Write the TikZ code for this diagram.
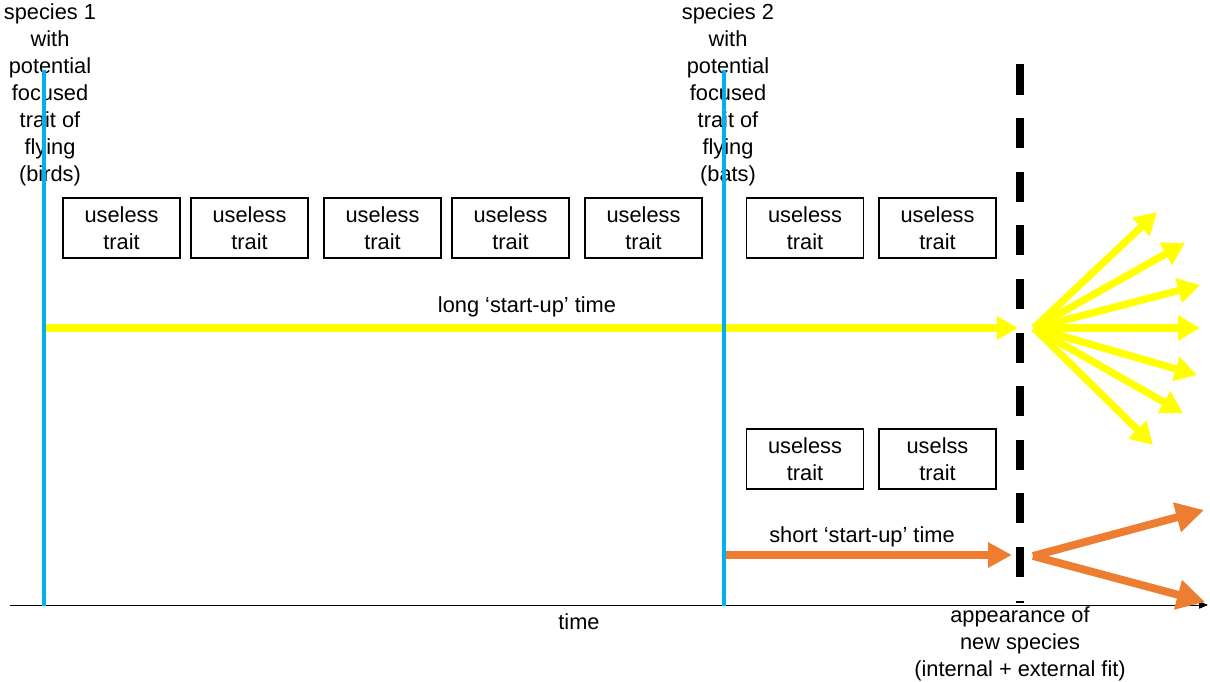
\documentclass[tikz,border=0pt]{standalone}
\usepackage{fontspec}
\setmainfont{Liberation Sans}
\usetikzlibrary{arrows.meta}
\definecolor{LineageBlue}{RGB}{0,176,240}
\definecolor{FitYellow}{RGB}{255,255,0}
\definecolor{FitOrange}{RGB}{237,125,49}

\begin{document}
\begin{tikzpicture}[x=0.025cm,y=-0.025cm,font=\fontsize{15.5}{19.2}\selectfont,
  trait/.style={draw,line width=0.9pt,minimum width=2.925cm,minimum height=1.5cm,align=center,inner sep=0pt},
  label/.style={align=center,inner sep=0pt},
  lineage/.style={LineageBlue,line width=2.9pt},
  longrun/.style={FitYellow,line width=5.2pt,-{Triangle[length=0.52cm,width=0.55cm]}},
  shortrun/.style={FitOrange,line width=5.6pt,-{Triangle[length=0.6cm,width=0.6cm]}},
  yfan/.style={FitYellow,line width=5.2pt,-{Triangle[length=0.55cm,width=0.6cm]}},
  ofan/.style={FitOrange,line width=5.6pt,-{Triangle[length=0.7cm,width=0.72cm]}},
  emerge/.style={line width=5.6pt,dash pattern=on 0.75cm off 0.59cm}]
\useasboundingbox (0,0) rectangle (1210,682);
% species labels
\node[label] (sp1) at (50,95) {species 1\\with\\potential\\focused\\trait of\\flying\\(birds)};
\node[label] (sp2) at (728,95) {species 2\\with\\potential\\focused\\trait of\\flying\\(bats)};
% time axis and lineages
\coordinate (ax0) at (10,605);\coordinate (ax1) at (1208,605);
\draw[line width=0.6pt,-{Triangle[length=0.22cm,width=0.18cm]}] (ax0) -- (ax1);
\node[label] (time) at (579,622) {time};
\coordinate (b1top) at (44,70);\coordinate (b1bot) at (44,606);
\coordinate (b2top) at (724,70);\coordinate (b2bot) at (724,606);
% useless traits, long route
\foreach \x [count=\i] in {121.5,249.5,382.5,510.5,643.5,805,937.5}
  \node[trait] (u\i) at (\x,228) {useless\\trait};
% useless traits, short route
\node[trait] (v1) at (805,459) {useless\\trait};
\node[trait] (v2) at (937.5,459) {uselss\\trait};
% appearance of new species
\coordinate (newtop) at (1020,64.5);\coordinate (newbot) at (1020,603);
\draw[emerge] (newtop) -- (newbot);
\node[label] (newsp) at (1020,644) {appearance of\\new species\\(internal + external fit)};
% start-up times
\coordinate (yend) at (1018,328);\coordinate (oend) at (1012,555);
\coordinate (b1mid) at (44,328);\coordinate (b2mid) at (724,555);
\draw[longrun] (b1mid) -- (yend);
\draw[shortrun] (b2mid) -- (oend);
\node[label] (longlbl) at (527,307) {long ‘start-up’ time};
\node[label] (shortlbl) at (862,537) {short ‘start-up’ time};
\draw[lineage] (b1top) -- (b1bot);\draw[lineage] (b2top) -- (b2bot);
% radiation
\coordinate (yroot) at (1034,328);\coordinate (oroot) at (1033,556);
\foreach \tx/\ty in {1157/212,1185/243,1200/285,1200/328,1197/375,1183/413,1153/445}
  \draw[yfan] (yroot) -- (\tx,\ty);
\foreach \tx/\ty in {1204/510,1205/602}
  \draw[ofan] (oroot) -- (\tx,\ty);
\end{tikzpicture}
\end{document}
